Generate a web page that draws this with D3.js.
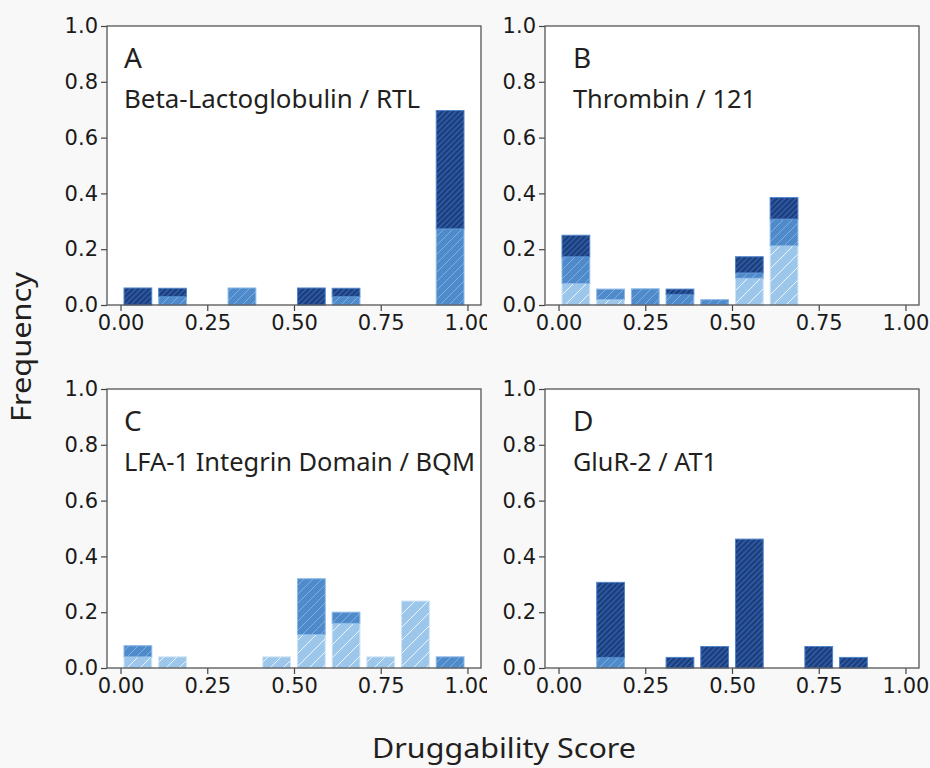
<!DOCTYPE html>
<html><head><meta charset="utf-8">
<script src="https://cdn.jsdelivr.net/npm/d3@7"></script>
<style>
html,body{margin:0;padding:0;background:#f8f8f8;}
svg{display:block;}
.tick text{font-family:"DejaVu Sans",Verdana,sans-serif !important;font-size:21px !important;}
</style></head>
<body>
<svg id="chart" width="930" height="768"></svg>
<script>
// ---- data (frequency per 0.1-wide druggability-score bin) ----
const binStarts = [0.0,0.1,0.2,0.3,0.4,0.5,0.6,0.7,0.8,0.9];
const xTicks = [0, 0.25, 0.5, 0.75, 1.0];
const yTicks = [0, 0.2, 0.4, 0.6, 0.8, 1.0];
const seriesNames = ["light","mid","dark"];

const panelLetters = ["A","B","C","D"];
const panelTitles = ["Beta-Lactoglobulin / RTL","Thrombin / 121","LFA-1 Integrin Domain / BQM","GluR-2 / AT1"];

const lightA = [0,0,0,0,0,0,0,0,0,0];
const midA   = [0,0.030,0,0.061,0,0,0.030,0,0,0.273];
const darkA  = [0.061,0.030,0,0,0,0.061,0.030,0,0,0.424];

const lightB = [0.077,0.019,0,0,0,0.096,0.212,0,0,0];
const midB   = [0.096,0.038,0.058,0.038,0.019,0.019,0.096,0,0,0];
const darkB  = [0.077,0,0,0.019,0,0.058,0.077,0,0,0];

const lightC = [0.04,0.04,0,0,0.04,0.12,0.16,0.04,0.24,0];
const midC   = [0.04,0,0,0,0,0.20,0.04,0,0,0.04];
const darkC  = [0,0,0,0,0,0,0,0,0,0];

const lightD = [0,0,0,0,0,0,0,0,0,0];
const midD   = [0,0.038,0,0,0,0,0,0,0,0];
const darkD  = [0,0.269,0,0.038,0.077,0.462,0,0.077,0.038,0];

// ---- style / layout ----
const colors = {light:"#9dc7ea", mid:"#4f8bcb", dark:"#1c3e7f"};
const edgeColors = {light:"#cfe4f6", mid:"#8ab8e6", dark:"#4f84c9"};
const hatchColors = {light:"rgba(255,255,255,0.8)", mid:"#80afdf", dark:"#3a6db5"};
const hatchSpacing = {light:13, mid:9, dark:5.5};
const panelPos = [{x:107,y:26,lx:17,clip:487},{x:545,y:26,lx:28,clip:null},{x:107,y:389,lx:17,clip:487},{x:545,y:389,lx:28,clip:null}];
const titleLengths = [296, 183, 351, 144];
const PW = 374, PH = 279;
const textColor = "#231f20";

const panelData = [
  {light:lightA, mid:midA, dark:darkA},
  {light:lightB, mid:midB, dark:darkB},
  {light:lightC, mid:midC, dark:darkC},
  {light:lightD, mid:midD, dark:darkD}
];

const svg = d3.select("#chart");
const defs = svg.append("defs");

seriesNames.forEach(s => {
  const sp = hatchSpacing[s];
  const p = defs.append("pattern").attr("id","hatch-"+s)
    .attr("patternUnits","userSpaceOnUse").attr("width",sp).attr("height",sp);
  p.append("rect").attr("width",sp).attr("height",sp).attr("fill",colors[s]);
  p.append("path")
    .attr("d",`M0,${sp} L${sp},0 M${-sp/2},${sp/2} L${sp/2},${-sp/2} M${sp/2},${sp*1.5} L${sp*1.5},${sp/2}`)
    .attr("stroke",hatchColors[s]).attr("stroke-width",1).attr("fill","none");
});

const x = d3.scaleLinear().domain([-0.039, 1.039]).range([0, PW]);
const y = d3.scaleLinear().domain([0, 1]).range([PH, 0]);

panelData.forEach((pd, i) => {
  const pos = panelPos[i];
  if (pos.clip) {
    defs.append("clipPath").attr("id","clip"+i)
      .append("rect").attr("x",0).attr("y",0).attr("width",pos.clip).attr("height",768);
  }
  const outer = svg.append("g").attr("clip-path", pos.clip ? `url(#clip${i})` : null);
  const g = outer.append("g").attr("transform",`translate(${pos.x},${pos.y})`);
  g.append("rect").attr("width",PW).attr("height",PH).attr("fill","#fff");

  // stacked bars
  const rows = binStarts.map((b, j) => ({bin:b, light:pd.light[j], mid:pd.mid[j], dark:pd.dark[j]}));
  const stacked = d3.stack().keys(seriesNames)(rows);
  stacked.forEach(layer => {
    const s = layer.key;
    g.append("g").selectAll("rect").data(layer.filter(d => d[1]-d[0] > 1e-9)).join("rect")
      .attr("x", d => x(d.data.bin + 0.01))
      .attr("width", d => x(d.data.bin + 0.09) - x(d.data.bin + 0.01))
      .attr("y", d => y(d[1]))
      .attr("height", d => y(d[0]) - y(d[1]))
      .attr("fill", `url(#hatch-${s})`)
      .attr("stroke", edgeColors[s]).attr("stroke-width", 1);
  });

  // axes
  const xAxis = d3.axisBottom(x).tickValues(xTicks).tickFormat(d3.format(".2f")).tickSizeOuter(0).tickSize(6).tickPadding(4);
  const yAxis = d3.axisLeft(y).tickValues(yTicks).tickFormat(d3.format(".1f")).tickSizeOuter(0).tickSize(6).tickPadding(3);
  const gx = g.append("g").attr("transform",`translate(0,${PH})`).call(xAxis);
  const gy = g.append("g").call(yAxis);
  [gx, gy].forEach(a => {
    a.attr("font-family",'"DejaVu Sans"').attr("font-size",21);
    a.select(".domain").remove();
    a.selectAll("line").attr("stroke","#444").attr("stroke-width",1.2);
    a.selectAll("text").attr("fill","#1a1a1a");
  });
  g.append("rect").attr("width",PW).attr("height",PH).attr("fill","none")
    .attr("stroke","#555").attr("stroke-width",1.3);

  // panel labels
  g.append("text").attr("x",pos.lx).attr("y",42).text(panelLetters[i])
    .attr("font-family","Noto Sans").attr("font-size",28).attr("fill",textColor);
  g.append("text").attr("x",pos.lx).attr("y",82).text(panelTitles[i])
    .attr("font-family","Noto Sans").attr("font-size",25).attr("fill",textColor)
    .attr("textLength",titleLengths[i]).attr("lengthAdjust","spacingAndGlyphs");
});

// shared axis labels
svg.append("text").attr("x",504).attr("y",758).attr("text-anchor","middle")
  .attr("font-family","Noto Sans").attr("font-size",28).attr("fill",textColor)
  .attr("textLength",264).attr("lengthAdjust","spacingAndGlyphs")
  .text("Druggability Score");
svg.append("text").attr("transform","translate(31,347) rotate(-90)").attr("text-anchor","middle")
  .attr("font-family","Noto Sans").attr("font-size",28).attr("fill",textColor)
  .attr("textLength",150).attr("lengthAdjust","spacingAndGlyphs")
  .text("Frequency");
</script>
</body></html>
